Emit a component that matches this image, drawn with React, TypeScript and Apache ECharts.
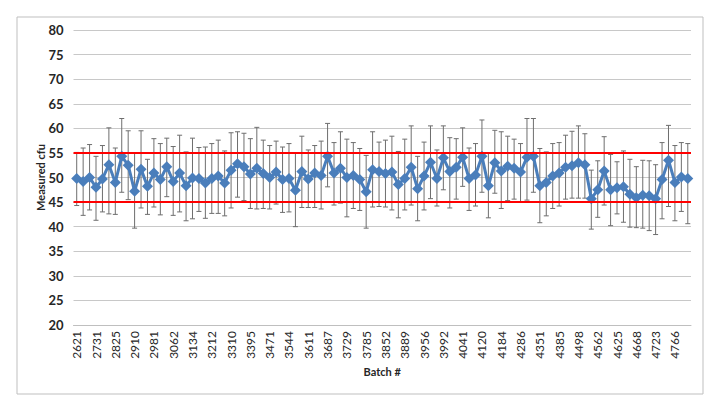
import React, { useEffect, useRef } from "react";
import * as echarts from "echarts";

// Visible batch labels (every third batch)
const tickLabels = [
  "2621", "2731", "2825", "2910", "2981", "3062", "3134", "3212", "3310", "3395",
  "3471", "3544", "3611", "3687", "3729", "3785", "3852", "3889", "3956", "3992",
  "4041", "4120", "4184", "4286", "4351", "4385", "4498", "4562", "4625", "4668",
  "4723", "4766",
];

// Measured cfu per batch
const measured = [
  49.8, 49.2, 50.0, 48.0, 49.7, 52.6, 49.0, 54.3, 52.5, 47.2,
  51.7, 48.2, 50.9, 49.6, 52.2, 49.2, 50.9, 48.3, 49.9, 49.8,
  48.9, 49.8, 50.3, 48.9, 51.5, 52.8, 52.2, 50.7, 51.9, 50.8,
  50.0, 51.1, 49.6, 49.8, 47.4, 51.2, 49.7, 50.9, 50.4, 54.3,
  50.9, 51.9, 50.0, 50.4, 49.6, 47.1, 51.6, 51.2, 50.8, 51.1,
  48.6, 49.8, 52.1, 47.7, 50.3, 53.1, 49.8, 54.0, 51.2, 52.1,
  54.1, 49.8, 50.5, 54.3, 48.3, 53.0, 51.3, 52.3, 51.9, 51.1,
  54.1, 54.3, 48.3, 49.0, 50.3, 50.9, 52.1, 52.4, 53.0, 52.6,
  45.7, 47.5, 51.3, 47.5, 47.9, 48.1, 46.6, 45.9, 46.4, 46.3,
  45.7, 49.6, 53.5, 49.0, 50.1, 49.8,
];

// Error bar upper ends
const upper = [
  55.1, 56.0, 56.7, 54.3, 56.5, 60.1, 56.0, 62.0, 59.5, 55.0,
  59.5, 53.7, 57.9, 56.9, 58.0, 56.3, 58.6, 55.2, 58.0, 56.1,
  56.2, 56.9, 57.6, 55.4, 59.1, 59.3, 59.0, 57.9, 60.2, 57.6,
  56.5, 57.4, 56.2, 56.9, 54.9, 58.4, 55.6, 56.5, 57.4, 61.0,
  57.1, 59.3, 57.8, 57.1, 55.9, 54.5, 59.3, 57.2, 57.6, 58.4,
  55.3, 57.8, 60.5, 54.3, 57.2, 60.5, 55.6, 60.5, 58.1, 57.9,
  60.1, 56.0, 56.9, 61.7, 55.0, 59.6, 59.3, 58.4, 57.8, 56.9,
  62.0, 62.0, 55.9, 55.2, 56.9, 57.1, 58.6, 59.4, 60.5, 58.9,
  51.5, 53.4, 58.3, 54.7, 53.2, 55.4, 53.7, 52.2, 53.5, 53.4,
  52.6, 57.1, 60.6, 56.5, 57.1, 56.9,
];

// Error bar lower ends
const lower = [
  44.3, 42.3, 43.4, 41.3, 43.0, 42.6, 42.5, 47.0, 45.5, 39.7,
  43.8, 42.5, 44.0, 42.4, 46.1, 42.3, 43.0, 41.2, 41.6, 43.1,
  41.7, 42.7, 42.7, 42.2, 43.8, 46.0, 45.3, 43.7, 43.6, 43.7,
  43.6, 44.6, 42.9, 43.0, 40.0, 43.9, 43.9, 43.9, 43.6, 48.1,
  44.4, 44.8, 42.0, 43.7, 43.3, 39.7, 44.0, 44.1, 44.0, 43.4,
  41.8, 43.4, 44.4, 41.2, 43.4, 45.7, 44.2, 47.5, 43.8, 45.6,
  48.2, 43.3, 44.2, 47.0, 41.8, 46.8, 43.7, 45.3, 45.6, 45.1,
  45.4, 47.0, 40.8, 42.2, 43.7, 44.2, 45.6, 45.8, 45.8, 45.8,
  39.5, 41.9, 44.4, 40.2, 42.6, 40.9, 39.9, 39.8, 39.7, 39.2,
  38.4, 41.6, 44.1, 41.2, 43.1, 40.6,
];

const specLimits = [55, 45];
const yTicks = { min: 20, max: 80, interval: 5 };

export default function App() {
  const ref = useRef<HTMLDivElement>(null);
  useEffect(() => {
    if (!ref.current) return;
    const chart = echarts.init(ref.current, null, { renderer: "svg" });
    // categories: each visible label followed by two unlabeled batches
    const categories: string[] = [];
    for (let i = 0; i < measured.length; i++) {
      const t = tickLabels[Math.floor(i / 3)];
      categories.push(i % 3 === 0 && t ? t : `${t ?? "b"}_${i}`);
    }
    const errData = measured.map((_, i) => [i, lower[i], upper[i]]);
    const font = "Lato, 'Open Sans', sans-serif";
    chart.setOption({
      animation: false,
      backgroundColor: "#ffffff",
      graphic: [
        {
          type: "rect",
          shape: { x: 17, y: 17, width: 686, height: 377 },
          style: { fill: "none", stroke: "#bfbfbf", lineWidth: 1 },
          silent: true,
        },
      ],
      grid: { left: 73.5, right: 29, top: 30, bottom: 84, containLabel: false },
      xAxis: {
        type: "category",
        data: categories,
        boundaryGap: true,
        name: "Batch #",
        nameLocation: "middle",
        nameGap: 41,
        nameMoveOverlap: false,
        nameTextStyle: { fontFamily: font, fontWeight: "bold", fontSize: 11, color: "#262626" },
        axisLine: { show: true, lineStyle: { color: "#bfbfbf", width: 1 } },
        axisTick: { show: false },
        axisLabel: {
          interval: 2,
          rotate: 90,
          margin: 6,
          fontFamily: font,
          fontSize: 12,
          color: "#262626",
          formatter: (v: string) => (v.indexOf("_") >= 0 ? "" : v),
        },
        splitLine: { show: false },
      },
      yAxis: {
        type: "value",
        min: yTicks.min,
        max: yTicks.max,
        interval: yTicks.interval,
        name: "Measured cfu",
        nameLocation: "middle",
        nameRotate: 90,
        nameGap: 28,
        nameMoveOverlap: false,
        nameTextStyle: { fontFamily: font, fontWeight: "bold", fontSize: 11, color: "#262626" },
        axisLine: { show: false },
        axisTick: { show: false },
        axisLabel: {
          margin: 10,
          fontFamily: font,
          fontWeight: "bold",
          fontSize: 13,
          color: "#262626",
        },
        splitLine: { show: true, lineStyle: { color: "#c8c8c8", width: 1 } },
      },
      series: [
        {
          type: "custom",
          name: "error",
          data: errData,
          encode: { x: 0, y: [1, 2] },
          z: 2,
          silent: true,
          renderItem: (params: any, api: any) => {
            const idx = api.value(0);
            const lo = api.coord([idx, api.value(1)]);
            const hi = api.coord([idx, api.value(2)]);
            const cap = 2.5;
            const style = { stroke: "#6e6e6e", lineWidth: 1 };
            return {
              type: "group",
              children: [
                { type: "line", shape: { x1: hi[0], y1: hi[1], x2: lo[0], y2: lo[1] }, style },
                { type: "line", shape: { x1: hi[0] - cap, y1: hi[1], x2: hi[0] + cap, y2: hi[1] }, style },
                { type: "line", shape: { x1: lo[0] - cap, y1: lo[1], x2: lo[0] + cap, y2: lo[1] }, style },
              ],
            };
          },
        },
        {
          type: "line",
          name: "Measured cfu",
          data: measured,
          z: 3,
          symbol: "diamond",
          symbolSize: 11,
          showAllSymbol: true,
          lineStyle: { color: "#4a7ebb", width: 3 },
          itemStyle: { color: "#4a7ebb" },
          markLine: {
            silent: true,
            symbol: "none",
            label: { show: false },
            lineStyle: { color: "#ff0000", width: 2, type: "solid" },
            data: specLimits.map((v) => ({ yAxis: v })),
          },
        },
      ],
    });
    return () => chart.dispose();
  }, []);
  return (
    <div
      ref={ref}
      style={{ position: "absolute", left: 0, top: 0, width: 720, height: 409, background: "#fff" }}
    />
  );
}
